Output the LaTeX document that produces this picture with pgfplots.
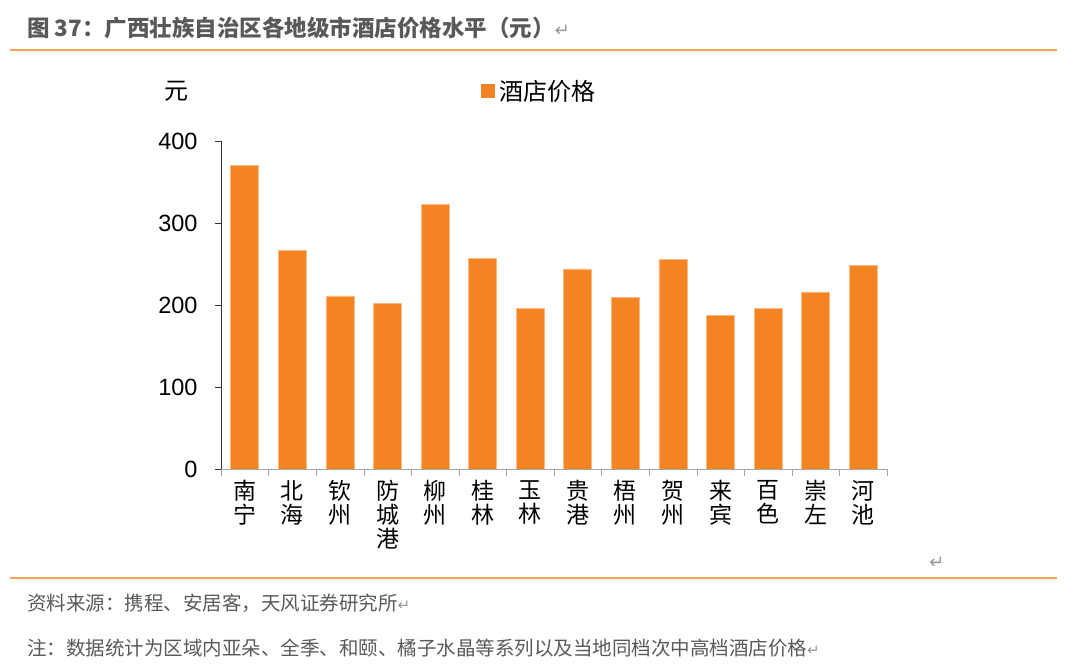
\documentclass[border=0pt]{standalone}
\usepackage{pgfplots}
\pgfplotsset{compat=1.18}
\usepackage{fontspec}
\setmainfont{Liberation Sans}
\newfontfamily\cjk{Noto Sans CJK SC}
\newfontfamily\dvs{DejaVu Sans}
\definecolor{barorange}{RGB}{244,132,34}
\definecolor{lineorange}{RGB}{246,162,84}
\definecolor{txtgray}{RGB}{89,89,89}
\definecolor{retgray}{RGB}{150,150,150}

\begin{document}
\begin{tikzpicture}[x=1pt,y=1pt]
\path (0,0) rectangle (1080,669);
% title
\node[anchor=west,inner sep=0pt,text=txtgray,font=\cjk\bfseries\fontsize{22.5}{24}\selectfont] at (27,641)
  {图 37：广西壮族自治区各地级市酒店价格水平（元）{\dvs\mdseries\color{retgray}\fontsize{18}{18}\selectfont ↵}};
\draw[lineorange,line width=1.2pt] (10,619) -- (1057,619);
% unit
\node[font=\cjk\fontsize{24}{26}\selectfont] at (176,578) {元};

\begin{axis}[
    at={(221pt,200pt)}, anchor=south west,
    scale only axis, width=666pt, height=328pt,
    xmin=-0.5, xmax=13.5, ymin=0, ymax=400,
    axis lines*=left,
    x axis line style={draw=gray!70},
    y axis line style={draw=black!80},
    ybar, bar width=28pt,
    tick align=outside,
    xtick={0,...,13},
    xticklabels={{南\\宁},{北\\海},{钦\\州},{防\\城\\港},{柳\\州},{桂\\林},{玉\\林},{贵\\港},{梧\\州},{贺\\州},{来\\宾},{百\\色},{崇\\左},{河\\池}},
    major x tick style={draw=none},
    minor xtick={-0.5,0.5,...,13.5},
    minor x tick style={draw=gray!70},
    minor tick length=7pt,
    xticklabel style={align=center, font=\cjk\fontsize{23}{24}\selectfont, yshift=-2pt},
    ytick={0,100,200,300,400},
    major tick length=6pt,
    ytick style={draw=black!80},
    /pgf/number format/assume math mode=true,
    yticklabel style={font=\fontsize{23.5}{24}\selectfont, xshift=-14pt},
    legend style={at={(0.39,1.152)}, anchor=west, draw=none, fill=none,
      font=\cjk\fontsize{24}{26}\selectfont, inner sep=0pt},
    legend image code/.code={\fill[barorange] (0pt,-6.5pt) rectangle (13pt,6.5pt);},
]
\addplot[fill=barorange, draw=barorange!55!white, line width=0.6pt] coordinates {
  (0,370) (1,267) (2,211) (3,202) (4,323) (5,257) (6,196)
  (7,244) (8,209) (9,256) (10,187) (11,196) (12,216) (13,248)
};
\addlegendentry{\hspace{3pt}酒店价格}
\end{axis}

% bottom
\node[font=\dvs\fontsize{18}{18}\selectfont, text=retgray] at (937,106) {↵};
\draw[lineorange,line width=1.2pt] (10,91) -- (1057,91);
\node[anchor=west,inner sep=0pt,text=txtgray,font=\cjk\fontsize{19.5}{20}\selectfont] at (27,66)
  {资料来源：携程、安居客，天风证券研究所{\dvs\color{retgray}\fontsize{15}{15}\selectfont ↵}};
\node[anchor=west,inner sep=0pt,text=txtgray,font=\cjk\fontsize{19.5}{20}\selectfont] at (27,21)
  {注：数据统计为区域内亚朵、全季、和颐、橘子水晶等系列以及当地同档次中高档酒店价格{\dvs\color{retgray}\fontsize{15}{15}\selectfont ↵}};
\end{tikzpicture}
\end{document}
